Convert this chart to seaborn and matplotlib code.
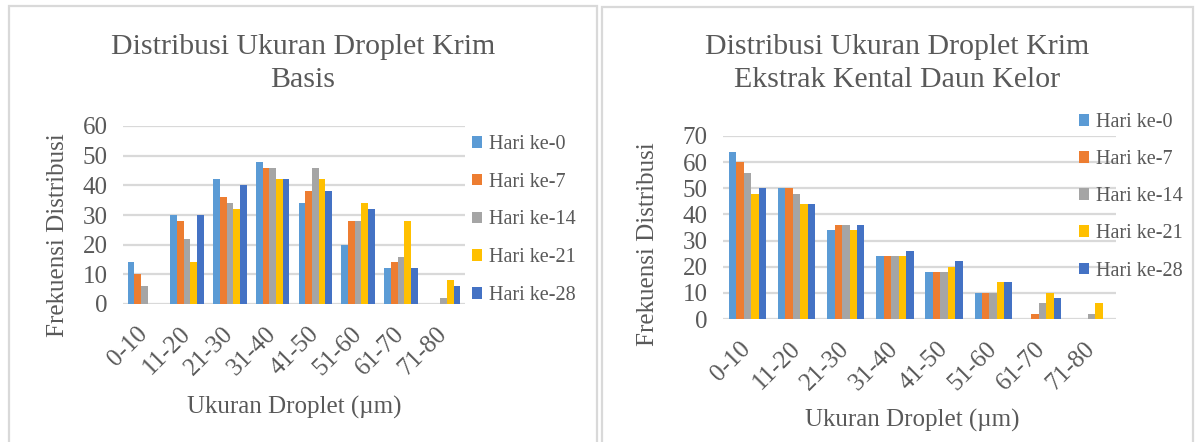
import numpy as np
import pandas as pd
import matplotlib
matplotlib.use("Agg")
import matplotlib.pyplot as plt
import seaborn as sns
from matplotlib.patches import Rectangle

# ---------------- data ----------------
categories = ["0-10", "11-20", "21-30", "31-40", "41-50", "51-60", "61-70", "71-80"]
series = ["Hari ke-0", "Hari ke-7", "Hari ke-14", "Hari ke-21", "Hari ke-28"]

basis_h0 = [14, 30, 42, 48, 34, 20, 12, 0]
basis_h7 = [10, 28, 36, 46, 38, 28, 14, 0]
basis_h14 = [6, 22, 34, 46, 46, 28, 16, 2]
basis_h21 = [0, 14, 32, 42, 42, 34, 28, 8]
basis_h28 = [0, 30, 40, 42, 38, 32, 12, 6]

kelor_h0 = [64, 50, 34, 24, 18, 10, 0, 0]
kelor_h7 = [60, 50, 36, 24, 18, 10, 2, 0]
kelor_h14 = [56, 48, 36, 24, 18, 10, 6, 2]
kelor_h21 = [48, 44, 34, 24, 20, 14, 10, 6]
kelor_h28 = [50, 44, 36, 26, 22, 14, 8, 0]

title_left = ["Distribusi Ukuran Droplet Krim", "Basis"]
title_right = ["Distribusi Ukuran Droplet Krim", "Ekstrak Kental Daun Kelor"]
xlabel = "Ukuran Droplet (\u00b5m)"
ylabel = "Frekuensi Distribusi"

colors = ["#5B9BD5", "#ED7D31", "#A5A5A5", "#FFC000", "#4472C4"]
TXT = "#595959"
GRID = "#D9D9D9"


def long_df(cols):
    rows = []
    for s, vals in zip(series, cols):
        for c, v in zip(categories, vals):
            rows.append({"cat": c, "series": s, "val": v})
    return pd.DataFrame(rows)


df_basis = long_df([basis_h0, basis_h7, basis_h14, basis_h21, basis_h28])
df_kelor = long_df([kelor_h0, kelor_h7, kelor_h14, kelor_h21, kelor_h28])

sns.set_theme(style="white")
plt.rcParams["font.family"] = ["Liberation Serif", "DejaVu Serif"]

W, H = 1197, 442
fig = plt.figure(figsize=(W / 100, H / 100), dpi=100)
fig.patch.set_facecolor("white")


def px_axes(l, t, r, b):
    return fig.add_axes([l / W, 1 - b / H, (r - l) / W, (b - t) / H])


def fx(x):
    return x / W


def fy(y):
    return 1 - y / H


# panel borders
fig.patches.append(Rectangle((fx(9), fy(460)), fx(597) - fx(9), fy(6) - fy(460),
                             transform=fig.transFigure, fill=False,
                             edgecolor=GRID, linewidth=1.6, zorder=0))
fig.patches.append(Rectangle((fx(602), fy(460)), fx(1193) - fx(602), fy(7) - fy(460),
                             transform=fig.transFigure, fill=False,
                             edgecolor=GRID, linewidth=1.6, zorder=0))


def draw(ax, df, ymax, width):
    sns.barplot(data=df, x="cat", y="val", hue="series", order=categories,
                hue_order=series, palette=colors, width=width, linewidth=0,
                saturation=1, ax=ax, zorder=3)
    ax.set_ylim(0, ymax)
    ax.set_xlim(-0.5, len(categories) - 0.5)
    ax.set_yticks(np.arange(0, ymax + 1, 10))
    ax.yaxis.grid(True, color=GRID, linewidth=1.6, zorder=0)
    ax.set_axisbelow(True)
    for s in ax.spines.values():
        s.set_visible(False)
    ax.tick_params(axis="both", length=0, labelsize=18, labelcolor=TXT)
    ax.tick_params(axis="y", pad=11)
    ax.tick_params(axis="x", pad=19)
    for lab in ax.get_xticklabels():
        lab.set_rotation(45)
        lab.set_ha("right")
        lab.set_va("center")
        lab.set_rotation_mode("anchor")
    ax.set_xlabel("")
    ax.set_ylabel("")
    ax.set_facecolor("none")
    handles, labels = ax.get_legend_handles_labels()
    if ax.get_legend() is not None:
        ax.get_legend().remove()
    return handles, labels


ax1 = px_axes(123, 126, 465, 304)
h1, l1 = draw(ax1, df_basis, 60, 0.78)
ax2 = px_axes(723, 136, 1116, 319)
h2, l2 = draw(ax2, df_kelor, 70, 0.76)

leg_kw = dict(frameon=False, fontsize=14.5, labelcolor=TXT, handlelength=0.5,
              handleheight=0.5, handletextpad=0.35, borderaxespad=0, borderpad=0)
fig.legend(h1, l1, loc="upper left", bbox_to_anchor=(fx(472), fy(135)),
           labelspacing=0.93, **leg_kw)
fig.legend(h2, l2, loc="upper left", bbox_to_anchor=(fx(1079), fy(113)),
           labelspacing=0.9, **leg_kw)

# titles
for cx, lines in ((303, title_left), (897, title_right)):
    fig.text(fx(cx), fy(47), lines[0], ha="center", va="center", fontsize=21.5,
             color=TXT)
    fig.text(fx(cx), fy(80), lines[1], ha="center", va="center", fontsize=21.5,
             color=TXT)

# axis titles
fig.text(fx(294), fy(407), xlabel, ha="center", va="center", fontsize=18, color=TXT)
fig.text(fx(912), fy(420), xlabel, ha="center", va="center", fontsize=18, color=TXT)
fig.text(fx(58), fy(235), ylabel, ha="center", va="center", fontsize=18,
         color=TXT, rotation=90)
fig.text(fx(648), fy(244), ylabel, ha="center", va="center", fontsize=18,
         color=TXT, rotation=90)

fig.savefig("out.png", dpi=100, facecolor="white")
